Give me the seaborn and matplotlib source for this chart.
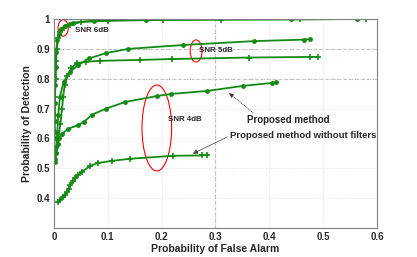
import matplotlib
matplotlib.use("Agg")
import matplotlib.pyplot as plt
from matplotlib.patches import Ellipse
import seaborn as sns

# === Data ===
x6_prop = [0.001, 0.001, 0.0015, 0.002, 0.003, 0.004, 0.006, 0.009, 0.013, 0.02, 0.035, 0.075, 0.17, 0.44, 0.563]
y6_prop = [0.60, 0.66, 0.72, 0.78, 0.84, 0.89, 0.93, 0.95, 0.965, 0.978, 0.988, 0.995, 0.998, 0.999, 1.0]
x6_nofilt = [0.001, 0.0015, 0.002, 0.003, 0.004, 0.005, 0.008, 0.012, 0.018, 0.03, 0.05, 0.1, 0.203, 0.31, 0.457, 0.58]
y6_nofilt = [0.62, 0.68, 0.74, 0.80, 0.86, 0.90, 0.935, 0.955, 0.97, 0.98, 0.99, 0.994, 0.997, 0.998, 0.999, 1.0]

x5_prop = [0.002, 0.004, 0.006, 0.008, 0.011, 0.018, 0.03, 0.045, 0.065, 0.097, 0.138, 0.24, 0.372, 0.465, 0.476]
y5_prop = [0.53, 0.57, 0.62, 0.68, 0.74, 0.79, 0.823, 0.846, 0.868, 0.886, 0.90, 0.913, 0.926, 0.931, 0.933]
x5_nofilt = [0.004, 0.008, 0.012, 0.015, 0.017, 0.02, 0.025, 0.032, 0.042, 0.06, 0.085, 0.16, 0.22, 0.362, 0.476, 0.49]
y5_nofilt = [0.55, 0.60, 0.65, 0.70, 0.74, 0.78, 0.81, 0.835, 0.852, 0.857, 0.86, 0.863, 0.866, 0.871, 0.873, 0.873]

x4_prop = [0.002, 0.004, 0.007, 0.01, 0.015, 0.026, 0.045, 0.056, 0.071, 0.097, 0.132, 0.191, 0.217, 0.284, 0.351, 0.405, 0.413]
y4_prop = [0.52, 0.55, 0.58, 0.60, 0.615, 0.632, 0.645, 0.656, 0.68, 0.70, 0.722, 0.742, 0.749, 0.759, 0.776, 0.786, 0.789]
x4_nofilt = [0.007, 0.012, 0.017, 0.021, 0.024, 0.027, 0.03, 0.035, 0.039, 0.045, 0.052, 0.067, 0.082, 0.108, 0.141, 0.222, 0.275, 0.284]
y4_nofilt = [0.388, 0.395, 0.405, 0.412, 0.42, 0.432, 0.445, 0.457, 0.468, 0.478, 0.488, 0.508, 0.518, 0.525, 0.532, 0.542, 0.543, 0.546]

green = "#138a13"

sns.set_style("white")
plt.rcParams["font.family"] = ["Liberation Sans", "DejaVu Sans"]
plt.rcParams["font.weight"] = "bold"

fig = plt.figure(figsize=(4.17, 2.57), dpi=100)
ax = fig.add_axes([0.1295, 0.1128, 0.7745, 0.8132])

# === Curves ===
curves = [
    (x6_prop, y6_prop, "o"), (x6_nofilt, y6_nofilt, "+"),
    (x5_prop, y5_prop, "o"), (x5_nofilt, y5_nofilt, "+"),
    (x4_prop, y4_prop, "o"), (x4_nofilt, y4_nofilt, "+"),
]
for xs, ys, mk in curves:
    sns.lineplot(x=xs, y=ys, ax=ax, sort=False, estimator=None, color=green,
                 linewidth=1.3, marker=mk, markersize=3.5 if mk == "o" else 4.5,
                 markeredgewidth=1.2 if mk == "+" else 0, markeredgecolor=green)

ax.set_xlim(0, 0.6)
ax.set_ylim(0.3, 1.0)
ax.set_xticks([0, 0.1, 0.2, 0.3, 0.4, 0.5, 0.6])
ax.set_xticklabels(["0", "0.1", "0.2", "0.3", "0.4", "0.5", "0.6"])
ax.set_yticks([0.4, 0.5, 0.6, 0.7, 0.8, 0.9, 1.0])
ax.set_yticklabels(["0.4", "0.5", "0.6", "0.7", "0.8", "0.9", "1"])
ax.tick_params(labelsize=7, length=0, pad=3)

# grid: faint dotted everywhere, dashed at a few lines
ax.grid(True, linestyle=":", color="#e4e4e4", linewidth=0.7)
ax.axvline(0.3, linestyle="--", color="#b5b5b5", linewidth=0.8, zorder=0)
for yv in (0.8, 0.9):
    ax.axhline(yv, linestyle="--", color="#b5b5b5", linewidth=0.8, zorder=0)

for sp in ax.spines.values():
    sp.set_color("#808080")
    sp.set_linewidth(0.8)

ax.set_xlabel("Probability of False Alarm", fontsize=7.5, fontweight="bold", labelpad=1)
ax.set_ylabel("Probability of Detection", fontsize=7.5, fontweight="bold", labelpad=3)

# === Annotations ===
ax.add_patch(Ellipse((0.017, 0.97), 0.019, 0.055, fill=False, edgecolor="red", linewidth=0.8))
ax.add_patch(Ellipse((0.264, 0.893), 0.022, 0.074, fill=False, edgecolor="red", linewidth=0.8))
ax.add_patch(Ellipse((0.191, 0.635), 0.055, 0.288, fill=False, edgecolor="red", linewidth=0.8))
ax.text(0.039, 0.963, "SNR 6dB", fontsize=5.7, fontweight="bold", va="center")
ax.text(0.27, 0.896, "SNR 5dB", fontsize=5.7, fontweight="bold", va="center")
ax.text(0.212, 0.662, "SNR 4dB", fontsize=5.7, fontweight="bold", va="center")

ax.text(0.359, 0.662, "Proposed method", fontsize=7, fontweight="bold", va="center")
ax.text(0.327, 0.609, "Proposed method without filters", fontsize=6.8, fontweight="bold", va="center")
ax.annotate("", xy=(0.325, 0.752), xytext=(0.37, 0.686),
            arrowprops=dict(arrowstyle="-|>", color="#333333", linewidth=0.5,
                            linestyle=":", shrinkA=0, shrinkB=0, mutation_scale=7))
ax.annotate("", xy=(0.258, 0.549), xytext=(0.322, 0.605),
            arrowprops=dict(arrowstyle="-|>", color="#444444", linewidth=0.5,
                            shrinkA=0, shrinkB=0, mutation_scale=7))

fig.savefig("out.png", dpi=100)
